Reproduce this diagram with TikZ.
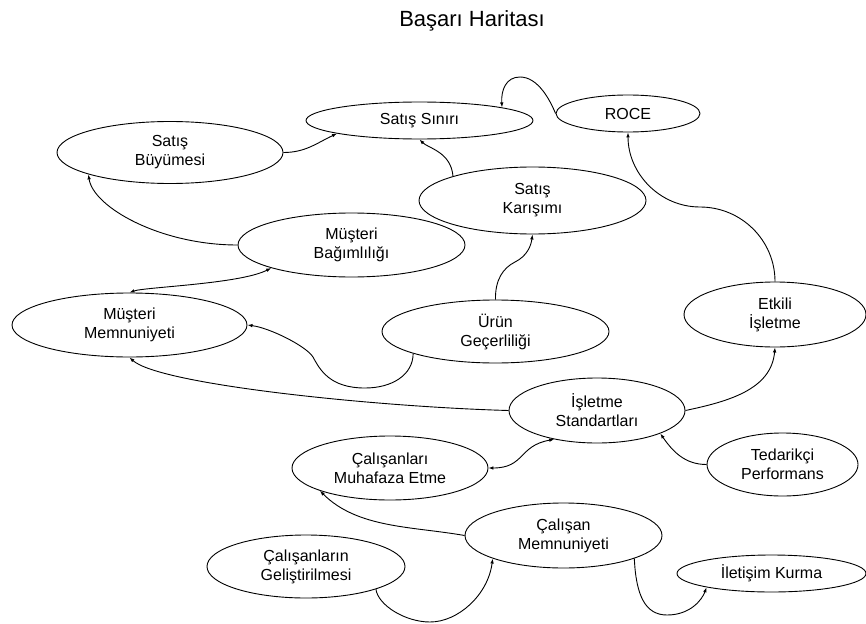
\documentclass[tikz,border=0pt]{standalone}
\usepackage{fontspec}
\setmainfont{Liberation Sans}
\usetikzlibrary{shapes.geometric,arrows.meta}

\tikzset{
  goal/.style={ellipse, draw, line width=0.9pt, inner sep=0pt, align=center,
    font=\fontsize{16}{19}\selectfont},
  link/.style={line width=0.9pt, -{Latex[length=5pt,width=3.6pt]}},
  twoway/.style={line width=0.9pt, {Latex[length=5pt,width=3.6pt]}-{Latex[length=5pt,width=3.6pt]}}
}

\begin{document}
\begin{tikzpicture}[x=1pt,y=1pt]
\useasboundingbox (0,0) rectangle (866,-623);

\node[anchor=base, font=\fontsize{22}{26}\selectfont] (title) at (472,-27) {Başarı Haritası};

% goals
\node[goal, minimum width=144pt, minimum height=37pt] (roce)  at (628,-113.5) {ROCE};
\node[goal, minimum width=227pt, minimum height=37pt] (sinir) at (419.5,-120.5) {Satış Sınırı};
\node[goal, minimum width=226pt, minimum height=62pt] (buy)   at (170,-152.5) {Satış\\Büyümesi};
\node[goal, minimum width=227pt, minimum height=67pt] (kar)   at (532.5,-200.5) {Satış\\Karışımı};
\node[goal, minimum width=227pt, minimum height=64pt] (bag)   at (351.5,-245) {Müşteri\\Bağımlılığı};
\node[goal, minimum width=235pt, minimum height=64pt] (mmem)  at (129.5,-325) {Müşteri\\Memnuniyeti};
\node[goal, minimum width=227pt, minimum height=63pt] (urun)  at (495.5,-331.5) {Ürün\\Geçerliliği};
\node[goal, minimum width=182pt, minimum height=65pt] (etk)   at (775,-314.5) {Etkili\\İşletme};
\node[goal, minimum width=176pt, minimum height=65pt] (ist)   at (597,-410.5) {İşletme\\Standartları};
\node[goal, minimum width=196pt, minimum height=64pt] (mhf)   at (390,-468) {Çalışanları\\Muhafaza Etme};
\node[goal, minimum width=151pt, minimum height=63pt] (ted)   at (782.5,-464.5) {Tedarikçi\\Performans};
\node[goal, minimum width=197pt, minimum height=65pt] (cmem)  at (563.5,-535.5) {Çalışan\\Memnuniyeti};
\node[goal, minimum width=198pt, minimum height=63pt] (gel)   at (306,-566.5) {Çalışanların\\Geliştirilmesi};
\node[goal, minimum width=189pt, minimum height=37pt] (ilt)   at (771.5,-573.5) {İletişim Kurma};

% links
\draw[link] (roce.west) .. controls (550,-100) and (538,-77) .. (520,-77)
  .. controls (506,-77) and (501,-90) .. (sinir.9);
\draw[link] (buy.east) to[out=0,in=205] (sinir.189);
\draw[link] (kar.163) .. controls (451,-152) and (428,-148) .. (sinir.south);
\draw[link] (etk.north) to[out=90,in=0] (700,-207) to[out=180,in=-90] (roce.south);
\draw[link] (bag.west) .. controls (160,-245) and (93,-207) .. (buy.195);
\draw[twoway] (mmem.north) .. controls (145,-287) and (240,-284) .. (bag.196);
\draw[link] (urun.195) .. controls (413,-375) and (392,-388) .. (365,-388)
  .. controls (330,-388) and (320,-370) .. (313,-357)
  .. controls (306,-346) and (270,-328) .. (mmem.east);
\draw[link] (urun.north) .. controls (495,-280) and (503,-268) .. (515,-262)
  .. controls (527,-256) and (531,-246) .. (kar.south);
\draw[link] (ist.west) .. controls (380,-407) and (160,-385) .. (mmem.south);
\draw[link] (ist.east) to[out=12,in=-95] (etk.south);
\draw[link] (ted.west) to[out=180,in=-55] (ist.340);
\draw[twoway] (mhf.east) to[out=0,in=190,looseness=1.3] (ist.214);
\draw[link] (cmem.west) to[out=170,in=-45,looseness=0.9] (mhf.198);
\draw[link] (gel.-18) .. controls (378,-605) and (405,-622) .. (430,-622)
  .. controls (458,-622) and (488,-595) .. (cmem.198);
\draw[link] (cmem.-18) .. controls (636,-595) and (645,-615) .. (667,-615)
  .. controls (690,-615) and (702,-600) .. (ilt.192);
\end{tikzpicture}
\end{document}
